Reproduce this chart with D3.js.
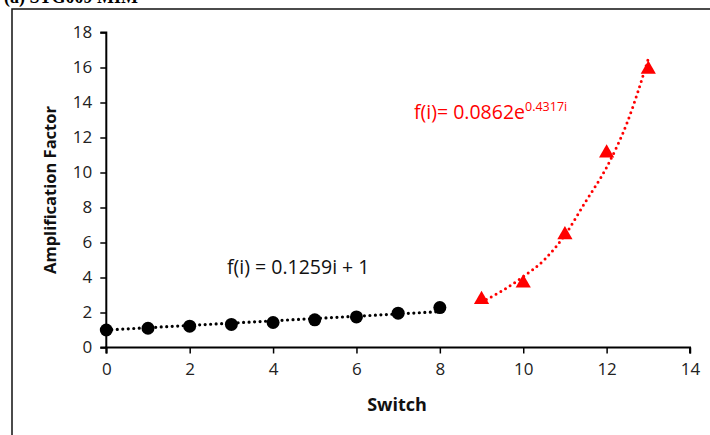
<!DOCTYPE html>
<html>
<head>
<meta charset="utf-8">
<script src="https://cdn.jsdelivr.net/npm/d3@7"></script>
<style>
  html, body { margin: 0; padding: 0; background: #fff; }
  svg { display: block; }
  text { font-family: "Open Sans", "Noto Sans", sans-serif; }
</style>
</head>
<body>
<svg id="chart" width="710" height="435"></svg>
<script>
// linear part (switches 0..8)
const linSwitch = [0, 1, 2, 3, 4, 5, 6, 7, 8];
const linValues = [1.0, 1.1, 1.22, 1.32, 1.43, 1.58, 1.75, 1.96, 2.28];
const linTrendX = [0, 8];
const linTrendY = [1.0, 2.05];

// exponential part (switches 9..13)
const expSwitch = [9, 10, 11, 12, 13];
const expValues = [2.8, 3.74, 6.5, 11.17, 15.95];
const expTrendX = [9, 9.5, 10, 10.5, 11, 11.5, 12, 12.5, 13];
const expTrendY = [2.6, 3.25, 4.05, 5.0, 6.43, 8.35, 10.3, 12.9, 16.5];

const xTicks = [0, 2, 4, 6, 8, 10, 12, 14];
const yTicks = [0, 2, 4, 6, 8, 10, 12, 14, 16, 18];

const svg = d3.select("#chart");

// frame of the figure panel + caption clipped at the top edge
svg.append("text")
  .attr("x", 4).attr("y", 3)
  .style("font-family", "'Liberation Serif', serif")
  .style("font-size", "18px")
  .style("font-weight", "bold")
  .text("(a) STG009 MIM");

svg.append("path")
  .attr("d", "M12,435V9H710")
  .attr("fill", "none")
  .attr("stroke", "#111")
  .attr("stroke-width", 1.5);

const x = d3.scaleLinear().domain([0, 14]).range([106.3, 690]);
const y = d3.scaleLinear().domain([0, 18]).range([347.5, 32.5]);

// X axis
const xAxis = svg.append("g")
  .attr("transform", `translate(0,${y(0)})`)
  .call(d3.axisBottom(x).tickValues(xTicks).tickSize(6).tickPadding(9).tickFormat(d3.format("d")));
xAxis.select(".domain").attr("stroke", "#000").attr("stroke-width", 2)
  .attr("d", `M${x(0)},6V0H${x(14)}V6`);
xAxis.selectAll(".tick line").attr("stroke", "#000").attr("stroke-width", 1.5);
xAxis.selectAll("text")
  .style("font-size", "17px")
  .attr("fill", "#222");

// Y axis
const yAxis = svg.append("g")
  .attr("transform", `translate(${x(0)},0)`)
  .call(d3.axisLeft(y).tickValues(yTicks).tickSize(6).tickPadding(8).tickFormat(d3.format("d")));
yAxis.select(".domain").attr("stroke", "#000").attr("stroke-width", 2)
  .attr("d", `M-6,${y(18)}H0V${y(0)}H-6`);
yAxis.selectAll(".tick line").attr("stroke", "#000").attr("stroke-width", 1.5);
yAxis.selectAll("text")
  .style("font-size", "17px")
  .attr("fill", "#222");

// axis titles
svg.append("text")
  .attr("transform", `translate(56,${(y(0) + y(18)) / 2}) rotate(-90)`)
  .attr("text-anchor", "middle")
  .style("font-size", "16.5px")
  .style("font-weight", "bold")
  .attr("fill", "#111")
  .text("Amplification Factor");

svg.append("text")
  .attr("x", 397).attr("y", 411)
  .attr("text-anchor", "middle")
  .style("font-size", "18px")
  .style("font-weight", "bold")
  .attr("fill", "#111")
  .text("Switch");

// trend lines (dotted)
const line = d3.line()
  .x((d) => x(d[0]))
  .y((d) => y(d[1]));

svg.append("path")
  .datum(d3.zip(linTrendX, linTrendY))
  .attr("d", line)
  .attr("fill", "none")
  .attr("stroke", "#000")
  .attr("stroke-width", 3.2)
  .attr("stroke-linecap", "round")
  .attr("stroke-dasharray", "0 5.5");

svg.append("path")
  .datum(d3.zip(expTrendX, expTrendY))
  .attr("d", line.curve(d3.curveMonotoneX))
  .attr("fill", "none")
  .attr("stroke", "#ff0000")
  .attr("stroke-width", 3)
  .attr("stroke-linecap", "round")
  .attr("stroke-dasharray", "0 5.5");

// markers
svg.append("g")
  .selectAll("circle")
  .data(d3.zip(linSwitch, linValues))
  .join("circle")
  .attr("cx", (d) => x(d[0]))
  .attr("cy", (d) => y(d[1]))
  .attr("r", 6.5)
  .attr("fill", "#000");

const tri = d3.symbol().type(d3.symbolTriangle).size(100);
svg.append("g")
  .selectAll("path")
  .data(d3.zip(expSwitch, expValues))
  .join("path")
  .attr("transform", (d) => `translate(${x(d[0])},${y(d[1]) + 1})`)
  .attr("d", tri)
  .attr("fill", "#ff0000");

// equations
svg.append("text")
  .attr("x", 227).attr("y", 274)
  .style("font-size", "19.5px")
  .attr("fill", "#111")
  .text("f(i) = 0.1259i + 1");

const eq = svg.append("text")
  .attr("x", 414).attr("y", 119)
  .style("font-size", "19.5px")
  .attr("fill", "#ff0000");
eq.append("tspan").text("f(i)= 0.0862e");
eq.append("tspan")
  .attr("dy", -8)
  .style("font-size", "12.5px")
  .text("0.4317i");
</script>
</body>
</html>
